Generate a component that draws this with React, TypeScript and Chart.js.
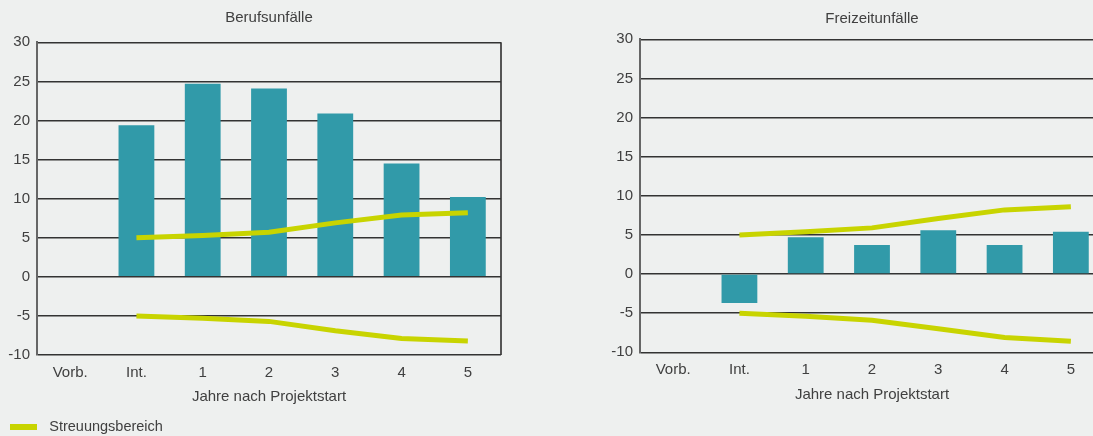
import React, { useEffect, useRef } from "react";
import { Chart, registerables } from "chart.js";

Chart.register(...registerables);

const categories = ["Vorb.", "Int.", "1", "2", "3", "4", "5"];
const berufBars = [0, 19.4, 24.7, 24.1, 20.9, 14.5, 10.2];
const berufUpper = [null, 5.0, 5.3, 5.7, 6.9, 7.9, 8.2];
const berufLower = [null, -5.0, -5.3, -5.7, -6.9, -7.9, -8.2];
const freizeitBars = [0, -3.7, 4.7, 3.7, 5.6, 3.7, 5.4];
const freizeitUpper = [null, 5.0, 5.4, 5.9, 7.1, 8.2, 8.6];
const freizeitLower = [null, -5.0, -5.4, -5.9, -7.0, -8.1, -8.6];
const yTicks = [-10, -5, 0, 5, 10, 15, 20, 25, 30];
const legendLabel = "Streuungsbereich";
const xTitle = "Jahre nach Projektstart";

const TEAL = "#319aa9";
const LIME = "#c8d400";
const TEXT = "#404040";
const GRID = "#333333";
const FONT = "'Liberation Sans', Arial, sans-serif";

function legendSwatch(): HTMLCanvasElement {
  const c = document.createElement("canvas");
  c.width = 32;
  c.height = 6;
  const g = c.getContext("2d")!;
  g.fillStyle = LIME;
  g.fillRect(0, 0, 27, 6);
  return c;
}

type Cfg = {
  title: string;
  bars: number[];
  upper: (number | null)[];
  lower: (number | null)[];
  withLegend: boolean;
  yWidth: number;
  padding: { left: number; right: number; top: number; bottom: number };
  titlePad: { top: number; bottom: number };
  xHeight: number;
  xTickPad: number;
  xTitlePadBottom: number;
};

function makeChart(canvas: HTMLCanvasElement, cfg: Cfg) {
  const lineDs = (data: (number | null)[], label: string) => ({
    type: "line" as const,
    label,
    data,
    borderColor: LIME,
    backgroundColor: LIME,
    borderWidth: 5,
    pointRadius: 0,
    tension: 0,
    fill: false,
    order: 0,
  });
  return new Chart(canvas, {
    type: "bar",
    data: {
      labels: categories,
      datasets: [
        lineDs(cfg.upper, legendLabel) as any,
        lineDs(cfg.lower, legendLabel + " (unten)") as any,
        {
          type: "bar",
          label: cfg.title,
          data: cfg.bars,
          backgroundColor: TEAL,
          borderWidth: 0,
          categoryPercentage: 1,
          barPercentage: 0.54,
          order: 1,
        },
      ],
    },
    options: {
      animation: false,
      responsive: false,
      maintainAspectRatio: false,
      layout: { padding: cfg.padding },
      plugins: {
        tooltip: { enabled: false },
        title: {
          display: true,
          text: cfg.title,
          fullSize: false,
          color: TEXT,
          font: { family: FONT, size: 15, weight: "normal" },
          padding: cfg.titlePad,
        },
        legend: {
          display: cfg.withLegend,
          position: "bottom",
          align: "start",
          labels: {
            filter: (item: any) => item.datasetIndex === 0,
            usePointStyle: true,
            pointStyle: legendSwatch() as any,
            pointStyleWidth: 32,
            padding: 5,
            color: TEXT,
            font: { family: FONT, size: 14.5 },
          },
        },
      },
      scales: {
        x: {
          offset: true,
          grid: {
            offset: true,
            drawTicks: false,
            lineWidth: 2,
            color: (c: any) => (c.index === undefined ? "#555" : "rgba(0,0,0,0)"),
          },
          border: { display: false },
          ticks: {
            color: TEXT,
            padding: cfg.xTickPad,
            font: { family: FONT, size: 15 },
            maxRotation: 0,
          },
          title: {
            display: true,
            text: xTitle,
            color: TEXT,
            font: { family: FONT, size: 15 },
            padding: { top: 0, bottom: cfg.xTitlePadBottom },
          },
          afterFit: (s: any) => {
            s.height = cfg.xHeight;
          },
        },
        y: {
          min: yTicks[0],
          max: yTicks[yTicks.length - 1],
          afterBuildTicks: (s: any) => {
            s.ticks = yTicks.map((v) => ({ value: v }));
          },
          grid: { drawTicks: false, color: GRID, lineWidth: 1.5 },
          border: { display: true, color: "#666", width: 2 },
          ticks: {
            color: TEXT,
            padding: 7,
            font: { family: FONT, size: 15 },
          },
          afterFit: (s: any) => {
            s.width = cfg.yWidth;
          },
        },
      },
    },
  });
}

function ChartBox(props: { cfg: Cfg; left: number; width: number; height: number }) {
  const ref = useRef<HTMLCanvasElement>(null);
  useEffect(() => {
    const ch = makeChart(ref.current!, props.cfg);
    return () => ch.destroy();
  }, []);
  return (
    <canvas
      ref={ref}
      width={props.width}
      height={props.height}
      style={{ position: "absolute", left: props.left, top: 0, width: props.width, height: props.height }}
    />
  );
}

const leftCfg: Cfg = {
  title: "Berufsunfälle",
  bars: berufBars,
  upper: berufUpper,
  lower: berufLower,
  withLegend: true,
  yWidth: 32,
  padding: { left: 5, right: 9, top: 0, bottom: 5.75 },
  titlePad: { top: 9.3, bottom: 15 },
  xHeight: 59.75,
  xTickPad: 8.5,
  xTitlePadBottom: 8.75,
};

const rightCfg: Cfg = {
  title: "Freizeitunfälle",
  bars: freizeitBars,
  upper: freizeitUpper,
  lower: freizeitLower,
  withLegend: false,
  yWidth: 60,
  padding: { left: 0, right: 10, top: 0, bottom: 23.7 },
  titlePad: { top: 10.3, bottom: 11 },
  xHeight: 60,
  xTickPad: 9,
  xTitlePadBottom: 8,
};

export default function App() {
  return (
    <div
      style={{
        position: "fixed",
        left: 0,
        top: 0,
        width: 1093,
        height: 436,
        overflow: "hidden",
        background: "#eef0ef",
      }}
    >
      <ChartBox cfg={leftCfg} left={0} width={510} height={450} />
      <ChartBox cfg={rightCfg} left={580} width={534} height={436} />
    </div>
  );
}
